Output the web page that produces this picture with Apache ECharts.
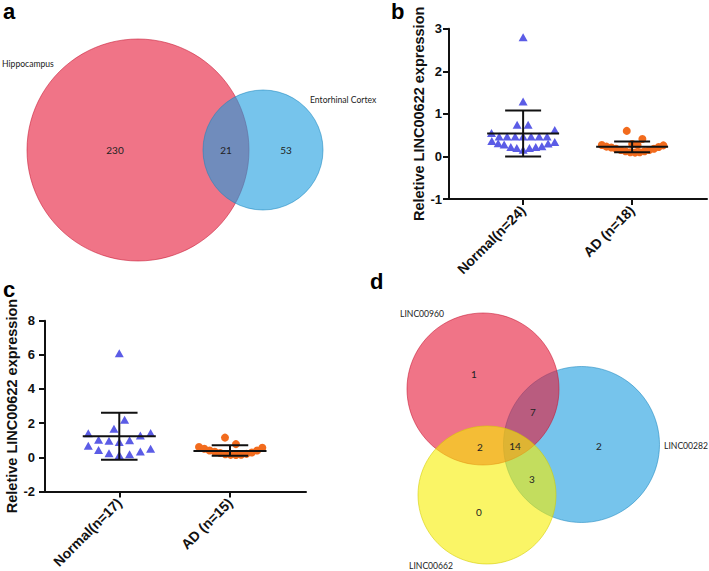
<!DOCTYPE html>
<html><head><meta charset="utf-8">
<script src="https://cdn.jsdelivr.net/npm/echarts@6/dist/echarts.min.js"></script>
<style>html,body{margin:0;padding:0;background:#fff}#c{width:709px;height:571px}</style>
</head><body><div id="c"></div>
<script>
// ---------- Panel b data ----------
const bCategories = ['Normal(n=24)', 'AD (n=18)'];
const bNormal = [2.80,1.29,0.745,0.745,0.55,0.62,0.47,0.47,0.47,0.47,0.47,0.47,0.47,0.36,0.31,0.28,0.22,0.20,0.157,0.20,0.22,0.24,0.305,0.336];
const bNormalJitter = [0,0,-0.055,0.046,-0.29,0.29,-0.22,-0.147,-0.073,0,0.073,0.147,0.22,-0.287,-0.229,-0.174,-0.113,-0.058,0,0.058,0.116,0.172,0.229,0.29];
const bAD = [0.60,0.41,0.29,0.27,0.27,0.23,0.21,0.18,0.15,0.12,0.10,0.09,0.10,0.12,0.15,0.18,0.22,0.26];
const bADJitter = [-0.049,0.094,0.0,0.05,-0.278,-0.235,-0.191,-0.148,-0.104,-0.061,-0.017,0.027,0.070,0.114,0.157,0.200,0.244,0.287];
const bMean = [0.54, 0.23];
const bSdLow = [0.00, 0.10];
const bSdHigh = [1.08, 0.35];

// ---------- Panel c data ----------
const cCategories = ['Normal(n=17)', 'AD (n=15)'];
const cNormal = [6.09,2.20,1.67,1.40,1.42,1.28,1.02,0.96,0.90,1.00,0.67,0.42,0.50,0.34,0.23,0.13,0.17];
const cNormalJitter = [0,0.048,-0.048,-0.28,0.283,0.19,-0.187,-0.093,0,0.093,-0.28,-0.187,0.283,0.19,-0.093,0,0.093];
const cAD = [1.15,0.77,0.60,0.50,0.40,0.32,0.25,0.18,0.14,0.13,0.15,0.20,0.28,0.40,0.56];
const cADJitter = [-0.045,0.054,-0.28,-0.232,-0.184,-0.137,-0.089,-0.042,0.006,0.054,0.101,0.149,0.197,0.245,0.292];
const cMean = [1.23, 0.37];
const cSdLow = [-0.15, 0.09];
const cSdHigh = [2.60, 0.70];

const yTitle = 'Reletive LINC00622 expression';

// ---------- Venn a data ----------
const vennASets = ['Hippocampus', 'Entorhinal Cortex'];
const vennACounts = [230, 21, 53];
// ---------- Venn d data ----------
const vennDSets = ['LINC00960', 'LINC00282', 'LINC00662'];
const vennDCounts = [1, 7, 2, 14, 2, 3, 0];

// ---------- layout (not data) ----------
const vennALayout = {
  circles: [[138,150,111,0],[263,150,60,1]],
  setLabels: [[2,64],[310,100]],
  regions: [[115,150],[226,150],[286,150]]
};
const vennDLayout = {
  circles: [[581.5,444.5,78,1],[483,389,76,0],[487,495,69,2]],
  setLabels: [[400,314],[664,446],[409,566]],
  regions: [[474,374],[533,412],[480,447],[515,446],[599,446],[532,479],[479,512]]
};
const vennColors = [[230,23,55],[27,157,223],[247,238,0]];

const FONT = "'Liberation Sans', Arial, sans-serif";
const VFONT = "Lato, 'Open Sans', sans-serif";
const triColor = '#5b5ce6';
const dotColor = '#f26b1d';

const chart = echarts.init(document.getElementById('c'), null, {renderer: 'svg'});

function xAxisFor(grid, cats, min, max) {
  return {
    type: 'value', gridIndex: grid, min: min, max: max,
    splitLine: {show: false},
    axisLine: {onZero: false, lineStyle: {color: '#111', width: 2}},
    axisTick: {customValues: [0, 1], length: 6, lineStyle: {color: '#111', width: 2}},
    axisLabel: {customValues: [0, 1], rotate: 45, margin: 9, color: '#111',
      fontFamily: FONT, fontWeight: 'bold', fontSize: 14,
      formatter: v => cats[Math.round(v)] }
  };
}
function yAxisFor(grid, min, max, interval, gap, margin) {
  return {
    type: 'value', gridIndex: grid, min: min, max: max, interval: interval,
    splitLine: {show: false},
    axisLine: {show: true, onZero: false, lineStyle: {color: '#111', width: 2}},
    axisTick: {show: true, length: 6, lineStyle: {color: '#111', width: 2}},
    axisLabel: {margin: margin, color: '#111', fontFamily: FONT, fontWeight: 'bold', fontSize: 13},
    name: yTitle, nameLocation: 'middle', nameGap: gap,
    nameTextStyle: {fontFamily: FONT, fontWeight: 'bold', fontSize: 14.5, color: '#111'}
  };
}
function points(vals, jit, cat) { return vals.map((v, i) => [cat + jit[i], v]); }
function errData(mean, lo, hi) { return mean.map((m, i) => [i, m, lo[i], hi[i]]); }
function errSeries(xi, yi, data) {
  return {
    type: 'custom', xAxisIndex: xi, yAxisIndex: yi, data: data, z: 5,
    renderItem: function (params, api) {
      const x = api.value(0);
      const pm = api.coord([x, api.value(1)]);
      const pl = api.coord([x, api.value(2)]);
      const ph = api.coord([x, api.value(3)]);
      const hm = api.size([0.33, 0])[0];
      const hc = api.size([0.165, 0])[0];
      const st = {stroke: '#111', lineWidth: 2};
      return {type: 'group', children: [
        {type: 'line', shape: {x1: pm[0]-hm, y1: pm[1], x2: pm[0]+hm, y2: pm[1]}, style: st},
        {type: 'line', shape: {x1: pl[0], y1: pl[1], x2: ph[0], y2: ph[1]}, style: st},
        {type: 'line', shape: {x1: ph[0]-hc, y1: ph[1], x2: ph[0]+hc, y2: ph[1]}, style: st},
        {type: 'line', shape: {x1: pl[0]-hc, y1: pl[1], x2: pl[0]+hc, y2: pl[1]}, style: st}
      ]};
    }
  };
}
function vennCircleSeries(layout) {
  return {
    type: 'custom', xAxisIndex: 2, yAxisIndex: 2, data: layout.circles, z: 1,
    renderItem: function (params, api) {
      const c = api.coord([api.value(0), api.value(1)]);
      const r = api.size([api.value(2), 0])[0];
      const col = vennColors[api.value(3)];
      return {type: 'circle', shape: {cx: c[0], cy: c[1], r: r},
        style: {fill: 'rgba(' + col.join(',') + ',0.6)', stroke: 'rgba(' + col.map(v => Math.round(v*0.85)).join(',') + ',0.55)', lineWidth: 1}};
    }
  };
}
function vennTextSeries(positions, texts, align, size) {
  return {
    type: 'custom', xAxisIndex: 2, yAxisIndex: 2, data: positions, z: 3,
    renderItem: function (params, api) {
      const c = api.coord([api.value(0), api.value(1)]);
      return {type: 'text', x: c[0], y: c[1],
        style: {text: String(texts[params.dataIndex]), fill: '#222', fontFamily: VFONT, fontSize: size,
          align: align, verticalAlign: 'middle'}};
    }
  };
}

const bMin = -0.68, bMax = -0.68 + 258 / 109;
const cMin = -0.671, cMax = -0.671 + 261 / 110.7;

const option = {
  animation: false,
  backgroundColor: '#fff',
  grid: [
    {left: 449, top: 28.7, width: 258, height: 170.3},
    {left: 45, top: 320.7, width: 261, height: 173.6},
    {left: 0, top: 0, width: 709, height: 571}
  ],
  xAxis: [
    xAxisFor(0, bCategories, bMin, bMax),
    xAxisFor(1, cCategories, cMin, cMax),
    {type: 'value', gridIndex: 2, min: 0, max: 709, show: false}
  ],
  yAxis: [
    yAxisFor(0, -1, 3, 1, 19, 7),
    yAxisFor(1, -2, 8, 2, 19, 10),
    {type: 'value', gridIndex: 2, min: 0, max: 571, inverse: true, show: false}
  ],
  graphic: [
    {type: 'text', x: 3, y: 11.5, style: {text: 'a', fontFamily: FONT, fontWeight: 'bold', fontSize: 22, fill: '#000', verticalAlign: 'middle'}},
    {type: 'text', x: 391, y: 11.5, style: {text: 'b', fontFamily: FONT, fontWeight: 'bold', fontSize: 22, fill: '#000', verticalAlign: 'middle'}},
    {type: 'text', x: 3, y: 289.5, style: {text: 'c', fontFamily: FONT, fontWeight: 'bold', fontSize: 22, fill: '#000', verticalAlign: 'middle'}},
    {type: 'text', x: 370, y: 281.5, style: {text: 'd', fontFamily: FONT, fontWeight: 'bold', fontSize: 22, fill: '#000', verticalAlign: 'middle'}}
  ],
  series: [
    {type: 'scatter', xAxisIndex: 0, yAxisIndex: 0, data: points(bNormal, bNormalJitter, 0),
      symbol: 'triangle', symbolSize: [9, 8], itemStyle: {color: triColor, opacity: 1}},
    {type: 'scatter', xAxisIndex: 0, yAxisIndex: 0, data: points(bAD, bADJitter, 1),
      symbol: 'circle', symbolSize: 8, itemStyle: {color: dotColor, opacity: 1}},
    errSeries(0, 0, errData(bMean, bSdLow, bSdHigh)),
    {type: 'scatter', xAxisIndex: 1, yAxisIndex: 1, data: points(cNormal, cNormalJitter, 0),
      symbol: 'triangle', symbolSize: [9, 8], itemStyle: {color: triColor, opacity: 1}},
    {type: 'scatter', xAxisIndex: 1, yAxisIndex: 1, data: points(cAD, cADJitter, 1),
      symbol: 'circle', symbolSize: 8, itemStyle: {color: dotColor, opacity: 1}},
    errSeries(1, 1, errData(cMean, cSdLow, cSdHigh)),
    vennCircleSeries(vennALayout),
    vennTextSeries(vennALayout.setLabels, vennASets, 'left', 8.6),
    vennTextSeries(vennALayout.regions, vennACounts, 'center', 10),
    vennCircleSeries(vennDLayout),
    vennTextSeries(vennDLayout.setLabels, vennDSets, 'left', 8.6),
    vennTextSeries(vennDLayout.regions, vennDCounts, 'center', 10)
  ]
};
chart.setOption(option);
</script></body></html>
